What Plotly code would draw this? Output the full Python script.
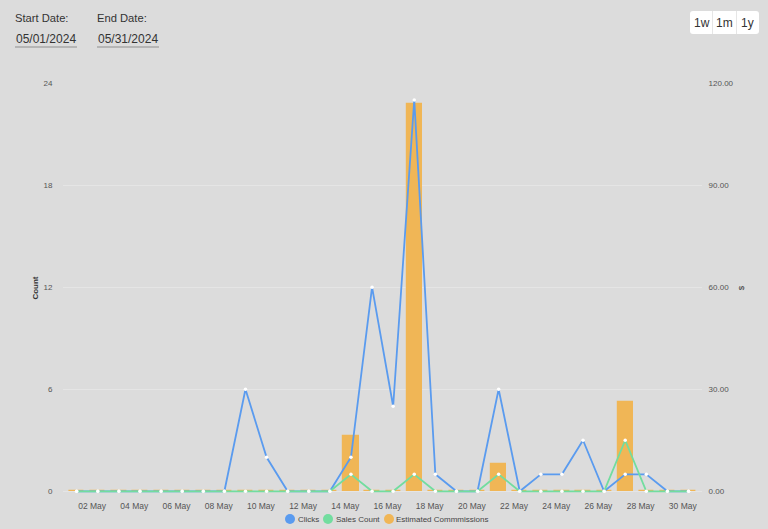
import plotly.graph_objects as go
import pandas as pd

# ---------------- data ----------------
days = [f"2024-05-{d:02d}" for d in range(1, 31)]
clicks = [0, 0, 0, 0, 0, 0, 0, 0, 6, 2, 0, 0, 0, 2, 12, 5, 23, 1, 0, 0,
          6, 0, 1, 1, 3, 0, 1, 1, 0, 0]
sales_count = [0, 0, 0, 0, 0, 0, 0, 0, 0, 0, 0, 0, 0, 1, 0, 0, 1, 0, 0, 0,
               1, 0, 0, 0, 0, 0, 3, 0, 0, 0]
commissions = [0, 0, 0, 0, 0, 0, 0, 0, 0, 0, 0, 0, 0, 16.2, 0, 0, 113.8, 0, 0, 0,
               8.1, 0, 0, 0, 0, 0, 26.1, 0, 0, 0]
tick_days = [f"2024-05-{d:02d}" for d in range(2, 31, 2)]
tick_labels = ["02 May", "04 May", "06 May", "08 May", "10 May", "12 May", "14 May",
               "16 May", "18 May", "20 May", "22 May", "24 May", "26 May", "28 May", "30 May"]
count_ticks = [0, 6, 12, 18, 24]
dollar_ticks = [0, 30, 60, 90, 120]
series_names = ["Clicks", "Sales Count", "Estimated Commmissions"]

# ---------------- styles ----------------
BG = "#dcdcdc"
GRID = "#e5e5e5"
BLUE = "#5a9bef"
GREEN = "#72dd9f"
ORANGE = "#f0b656"
FONT = "Liberation Sans, Arial, sans-serif"
W, H = 768, 529
ML, MR, MT, MB = 63, 66, 83, 36
PW = W - ML - MR
PH = H - MT - MB


def px(x):
    return (x - ML) / PW


def py(y):
    return (H - MB - y) / PH


x = pd.to_datetime(days)
day = pd.Timedelta(days=1)
tickvals = pd.to_datetime(tick_days) - 0.27 * day

fig = go.Figure()

fig.add_trace(go.Bar(
    x=x, y=commissions, name=series_names[2], yaxis="y",
    width=0.72 * 86400000, marker=dict(color=ORANGE, line=dict(color=ORANGE, width=1.2)),
    showlegend=False,
))
fig.add_trace(go.Scatter(
    x=x, y=clicks, name=series_names[0], yaxis="y2", mode="lines+markers",
    line=dict(color=BLUE, width=1.8),
    marker=dict(color="white", size=3.5, line=dict(width=0)),
    cliponaxis=False, showlegend=False,
))
fig.add_trace(go.Scatter(
    x=x, y=sales_count, name=series_names[1], yaxis="y2", mode="lines+markers",
    line=dict(color=GREEN, width=1.8),
    marker=dict(color="white", size=3.5, line=dict(width=0)),
    cliponaxis=False, showlegend=False,
))

fig.update_layout(
    width=W, height=H,
    margin=dict(l=ML, r=MR, t=MT, b=MB, autoexpand=False),
    paper_bgcolor=BG, plot_bgcolor=BG,
    font=dict(family=FONT, size=8, color="#555"),
    bargap=0,
    showlegend=False,
    xaxis=dict(
        range=[x[0] - 0.65 * day, x[-1] + 0.64 * day],
        tickvals=tickvals, ticktext=tick_labels,
        showgrid=False, zeroline=False, showline=False,
        ticks="outside", ticklen=5, tickcolor="rgba(0,0,0,0)",
        tickfont=dict(size=8.5, color="#555"),
    ),
    yaxis=dict(
        side="right", range=[-0.5, 120],
        tickvals=dollar_ticks, ticktext=[f"{v:.2f}" for v in dollar_ticks],
        showgrid=True, gridcolor=GRID, gridwidth=1, zeroline=False,
        ticks="outside", ticklen=4, tickcolor="rgba(0,0,0,0)",
        tickfont=dict(size=8, color="#555"),
        title=dict(text="$", font=dict(size=8, color="#333"), standoff=5),
    ),
    yaxis2=dict(
        overlaying="y", side="left", range=[-0.1, 24],
        tickvals=count_ticks, showgrid=False, zeroline=False,
        ticks="outside", ticklen=8, tickcolor="rgba(0,0,0,0)",
        tickfont=dict(size=8, color="#555"),
        title=dict(text="<b>Count</b>", font=dict(size=8, color="#333"), standoff=3),
    ),
)

ann = []
shapes = []
# legend (circle swatches + labels)
for (cx, tx), name, col in zip([(290, 297), (328, 335), (389, 395)], series_names,
                               [BLUE, GREEN, ORANGE]):
    shapes.append(dict(type="circle", xref="paper", yref="paper",
                       x0=px(cx - 5), x1=px(cx + 5), y0=py(519 + 5), y1=py(519 - 5),
                       fillcolor=col, line=dict(width=0)))
    ann.append(dict(x=px(tx - 1), y=py(519), xref="paper", yref="paper", text=name,
                    showarrow=False, xanchor="left", yanchor="middle",
                    font=dict(family=FONT, size=8, color="#444")))

# header: date fields
for lx, label, val in [(15, "Start Date:", "05/01/2024"), (97, "End Date:", "05/31/2024")]:
    ann.append(dict(x=px(lx - 2), y=py(18), xref="paper", yref="paper", text=label,
                    showarrow=False, xanchor="left", yanchor="middle",
                    font=dict(family=FONT, size=11.2, color="#333")))
    ann.append(dict(x=px(lx - 1), y=py(39), xref="paper", yref="paper", text=val,
                    showarrow=False, xanchor="left", yanchor="middle",
                    font=dict(family=FONT, size=12, color="#333")))
    shapes.append(dict(type="line", xref="paper", yref="paper",
                       x0=px(lx), x1=px(lx + 62), y0=py(47), y1=py(47),
                       line=dict(color="#b5b5b5", width=2)))

# range buttons
bx0, bx1, by0, by1, r = 690, 759, 11, 34, 3
path = (f"M {px(bx0 + r)},{py(by0)} L {px(bx1 - r)},{py(by0)} "
        f"Q {px(bx1)},{py(by0)} {px(bx1)},{py(by0 + r)} L {px(bx1)},{py(by1 - r)} "
        f"Q {px(bx1)},{py(by1)} {px(bx1 - r)},{py(by1)} L {px(bx0 + r)},{py(by1)} "
        f"Q {px(bx0)},{py(by1)} {px(bx0)},{py(by1 - r)} L {px(bx0)},{py(by0 + r)} "
        f"Q {px(bx0)},{py(by0)} {px(bx0 + r)},{py(by0)} Z")
shapes.append(dict(type="path", xref="paper", yref="paper", path=path,
                   fillcolor="white", line=dict(width=0)))
for dx in (712.5, 736.5):
    shapes.append(dict(type="line", xref="paper", yref="paper", x0=px(dx), x1=px(dx),
                       y0=py(by0), y1=py(by1), line=dict(color="#e6e6e6", width=1)))
for cx, t in [(701.5, "1w"), (724.5, "1m"), (747.5, "1y")]:
    ann.append(dict(x=px(cx), y=py(22.5), xref="paper", yref="paper", text=t,
                    showarrow=False, xanchor="center", yanchor="middle",
                    font=dict(family=FONT, size=12, color="#333")))

fig.update_layout(annotations=ann, shapes=shapes)
fig.write_html("out.html")
